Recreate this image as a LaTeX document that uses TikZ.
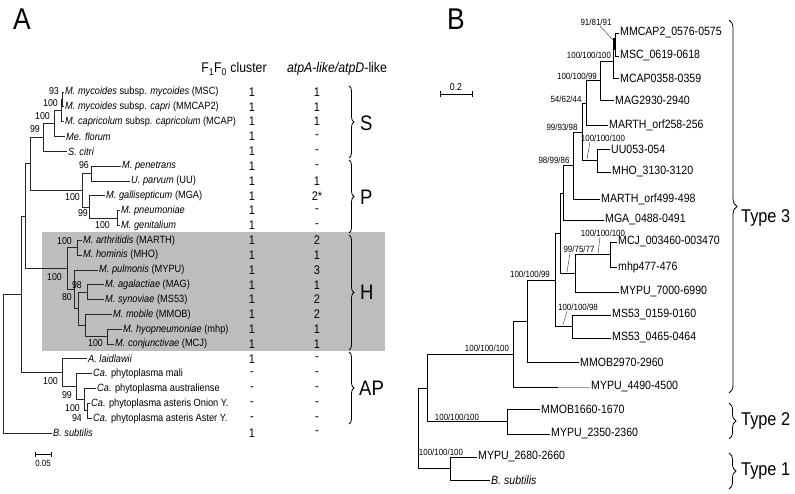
\documentclass[tikz,border=0pt]{standalone}
\usepackage{fontspec}
\setmainfont[FakeStretch=0.88]{Liberation Sans}
\usetikzlibrary{decorations.pathreplacing}
\newcommand{\fsz}[1]{\fontsize{#1}{#1}\selectfont}
\begin{document}
\begin{tikzpicture}[x=1pt,y=-1pt,
  brA/.style={line width=0.9pt, black!85},
  brB/.style={line width=0.95pt, black},
  leafA/.style={anchor=west, inner sep=1.5pt, font=\fsz{10.5}},
  bsA/.style={anchor=east, inner sep=1pt, font=\fsz{10}},
  val/.style={inner sep=0pt, font=\fsz{12.5}},
  leafB/.style={anchor=west, inner sep=1.5pt, font=\fsz{12}},
  bsB/.style={inner sep=0.5pt, font=\fsz{9}},
  lead/.style={line width=0.45pt, black!75},
  grp/.style={anchor=west, inner sep=0pt, font=\fsz{21}},
  typ/.style={anchor=west, inner sep=0pt, font=\fsz{18.5}},
  brc/.style={decorate, decoration={brace, amplitude=#1}, line width=0.8pt},
]
\useasboundingbox (0,0) rectangle (795,494);
\fill[black!26] (42,232) rectangle (385,351);

% ---------- panel labels ----------
\node[font=\fsz{30}, inner sep=0pt] (lblA) at (22,19) {A};
\node[font=\fsz{30}, inner sep=0pt] (lblB) at (456,19) {B};

% ---------- panel A header ----------
\node[font=\fsz{14}, inner sep=0pt] (hdr1) at (234,69) {F\textsubscript{1}F\textsubscript{0} cluster};
\node[font=\fsz{14}, inner sep=0pt] (hdr2) at (337,69) {\textit{atpA-like/atpD}-like};

% ---------- panel A leaves ----------
\node[leafA] (msc)    at (63.5,92.0)  {\textit{M. mycoides} subsp. \textit{mycoides} (MSC)};
\node[leafA] (mmcap)  at (63.5,106.8) {\textit{M. mycoides} subsp. \textit{capri} (MMCAP2)};
\node[leafA] (mcap)   at (63.5,121.7) {\textit{M. capricolum} subsp. \textit{capricolum} (MCAP)};
\node[leafA] (mefl)   at (64.5,136.5) {\textit{Me. florum}};
\node[leafA] (scit)   at (66.5,151.3) {\textit{S. citri}};
\node[leafA] (pen)    at (120.5,166.2) {\textit{M. penetrans}};
\node[leafA] (uu)     at (129.5,181.0) {\textit{U. parvum} (UU)};
\node[leafA] (mga)    at (104.5,195.8) {\textit{M. gallisepticum} (MGA)};
\node[leafA] (pneu)   at (119.5,210.6) {\textit{M. pneumoniae}};
\node[leafA] (geni)   at (119.5,225.5) {\textit{M. genitalium}};
\node[leafA] (marth)  at (81.5,240.3) {\textit{M. arthritidis} (MARTH)};
\node[leafA] (mho)    at (81.5,255.1) {\textit{M. hominis} (MHO)};
\node[leafA] (mypu)   at (97.5,270.0) {\textit{M. pulmonis} (MYPU)};
\node[leafA] (mag)    at (103.5,284.8) {\textit{M. agalactiae} (MAG)};
\node[leafA] (ms53)   at (103.5,299.6) {\textit{M. synoviae} (MS53)};
\node[leafA] (mmob)   at (111.5,314.5) {\textit{M. mobile} (MMOB)};
\node[leafA] (mhp)    at (121.5,329.3) {\textit{M. hyopneumoniae} (mhp)};
\node[leafA] (mcj)    at (113.5,344.1) {\textit{M. conjunctivae} (MCJ)};
\node[leafA] (laid)   at (86.5,358.9) {\textit{A. laidlawii}};
\node[leafA] (mali)   at (91.5,373.8) {\textit{Ca.} phytoplasma mali};
\node[leafA] (austr)  at (95.5,388.6) {\textit{Ca.} phytoplasma australiense};
\node[leafA] (onion)  at (89.5,403.4) {\textit{Ca.} phytoplasma asteris Onion Y.};
\node[leafA] (aster)  at (91.5,418.3) {\textit{Ca.} phytoplasma asteris Aster Y.};
\node[leafA] (bsubA)  at (51.5,433.1) {\textit{B. subtilis}};

% ---------- panel A internal nodes ----------
\coordinate (a1) at (62,99.4);
\coordinate (a2) at (61,110.6);
\coordinate (a3) at (54,123.5);
\coordinate (sA) at (43,137.4);
\coordinate (p1) at (91,173.6);
\coordinate (p2) at (117,218.1);
\coordinate (pX) at (89,207.0);
\coordinate (pA) at (82,190.3);
\coordinate (sp) at (30,163.8);
\coordinate (h1) at (77,247.7);
\coordinate (h2) at (87,292.2);
\coordinate (h3) at (107,336.7);
\coordinate (h4) at (85,325.6);
\coordinate (h5) at (78,308.9);
\coordinate (h6) at (74,289.5);
\coordinate (hA) at (67,268.6);
\coordinate (ap1) at (87,410.9);
\coordinate (ap2) at (84,399.7);
\coordinate (ap3) at (76,386.8);
\coordinate (apA) at (62,372.8);
\coordinate (i2) at (25,216.2);
\coordinate (i1) at (21,294.5);
\coordinate (rA) at (3,363.8);

\draw[brA] (a1) |- (msc.west)  (a1) |- (mmcap.west)
  (a2) |- (a1)  (a2) |- (mcap.west)
  (a3) |- (a2)  (a3) |- (mefl.west)
  (sA) |- (a3)  (sA) |- (scit.west)
  (p1) |- (pen.west)  (p1) |- (uu.west)
  (p2) |- (pneu.west)  (p2) |- (geni.west)
  (pX) |- (mga.west)  (pX) |- (p2)
  (pA) |- (p1)  (pA) |- (pX)
  (sp) |- (sA)  (sp) |- (pA)
  (h1) |- (marth.west)  (h1) |- (mho.west)
  (h2) |- (mag.west)  (h2) |- (ms53.west)
  (h3) |- (mhp.west)  (h3) |- (mcj.west)
  (h4) |- (mmob.west)  (h4) |- (h3)
  (h5) |- (h2)  (h5) |- (h4)
  (h6) |- (mypu.west)  (h6) |- (h5)
  (hA) |- (h1)  (hA) |- (h6)
  (ap1) |- (onion.west)  (ap1) |- (aster.west)
  (ap2) |- (austr.west)  (ap2) |- (ap1)
  (ap3) |- (mali.west)  (ap3) |- (ap2)
  (apA) |- (laid.west)  (apA) |- (ap3)
  (i2) |- (sp)  (i2) |- (hA)
  (i1) |- (i2)  (i1) |- (apA)
  (rA) |- (i1)  (rA) |- (bsubA.west);

% ---------- panel A support values ----------
\node[bsA] (sa1) at (60,91) {93};
\node[bsA] (sa2) at (59,103) {100};
\node[bsA] (sa3) at (51,116) {100};
\node[bsA] (sa4) at (41,129) {99};
\node[bsA] (sa5) at (90,165) {96};
\node[bsA] (sa6) at (81,197) {100};
\node[bsA] (sa7) at (89,213) {99};
\node[bsA] (sa8) at (111,225) {100};
\node[bsA] (sa9) at (73,241) {100};
\node[bsA] (sa10) at (63,277) {100};
\node[bsA] (sa11) at (83,285) {98};
\node[bsA] (sa12) at (73,297) {80};
\node[bsA] (sa13) at (104,343) {100};
\node[bsA] (sa14) at (59,381) {100};
\node[bsA] (sa15) at (73,395) {99};
\node[bsA] (sa16) at (81,408) {100};
\node[bsA] (sa17) at (83,418) {94};

% ---------- panel A table ----------
\foreach \i/\f/\a in {0/1/1,1/1/1,2/1/1,3/1/-,4/1/-,5/1/-,6/1/1,7/1/2*,8/1/-,9/1/-,
  10/1/2,11/1/1,12/1/3,13/1/1,14/1/2,15/1/2,16/1/1,17/1/1,18/1/-,19/-/-,20/-/-,
  21/-/-,22/-/-,23/1/-}{
  \node[val] (f\i) at (252,{92+14.83*\i}) {\f};
  \node[val] (g\i) at (317,{92+14.83*\i}) {\a};
}

% ---------- panel A braces ----------
\draw[brc=5pt] (349,86) -- (349,158);
\draw[brc=5pt] (349,160) -- (349,233);
\draw[brc=5pt] (349,235) -- (349,350);
\draw[brc=5pt] (349,352) -- (349,424);
\node[grp] (gS) at (360,123) {S};
\node[grp] (gP) at (360,197) {P};
\node[grp] (gH) at (360,292) {H};
\node[grp] (gAP) at (359,388) {AP};

% ---------- panel A scale ----------
\coordinate (scA1) at (35,454);
\coordinate (scA2) at (51,454);
\draw[line width=0.7pt] (scA1) -- (scA2);
\draw[line width=0.7pt] (35,451.5) -- (35,456.5) (51,451.5) -- (51,456.5);
\node[font=\fsz{9}, inner sep=0pt] (scAt) at (43,463) {0.05};

% ---------- panel B leaves ----------
\node[leafB] (bMMCAP2) at (618.5,33) {MMCAP2\_0576-0575};
\node[leafB] (bMSC)    at (618.5,56) {MSC\_0619-0618};
\node[leafB] (bMCAP)   at (618.5,78) {MCAP0358-0359};
\node[leafB] (bMAG)    at (613.5,100) {MAG2930-2940};
\node[leafB] (bM258)   at (607.5,125) {MARTH\_orf258-256};
\node[leafB] (bUU)     at (609.5,149) {UU053-054};
\node[leafB] (bMHO)    at (610.5,172) {MHO\_3130-3120};
\node[leafB] (bM499)   at (599.5,199) {MARTH\_orf499-498};
\node[leafB] (bMGA)    at (603.5,220) {MGA\_0488-0491};
\node[leafB] (bMCJ)    at (616.5,242) {MCJ\_003460-003470};
\node[leafB] (bmhp)    at (616.5,267) {mhp477-476};
\node[leafB] (bY7000)  at (618.5,292) {MYPU\_7000-6990};
\node[leafB] (bS0159)  at (610.5,315) {MS53\_0159-0160};
\node[leafB] (bS0465)  at (610.5,338) {MS53\_0465-0464};
\node[leafB] (bMM2970) at (578.5,362) {MMOB2970-2960};
\node[leafB] (bY4490)  at (589.5,387) {MYPU\_4490-4500};
\node[leafB] (bMM1660) at (539.5,409) {MMOB1660-1670};
\node[leafB] (bY2350)  at (549.5,434) {MYPU\_2350-2360};
\node[leafB] (bY2680)  at (476.5,457) {MYPU\_2680-2660};
\node[leafB] (bBsub)   at (489.5,480) {\textit{B. subtilis}};

% ---------- panel B internal nodes ----------
\coordinate (nmm) at (615,44.5);
\coordinate (nM)  at (613.5,61);
\coordinate (nA1) at (600,80.5);
\coordinate (nV)  at (586,103);
\coordinate (nUM) at (597,160.5);
\coordinate (nX)  at (582,132);
\coordinate (nZ)  at (573,165.5);
\coordinate (nY)  at (563,193);
\coordinate (nMC) at (610,254.5);
\coordinate (nQ)  at (575,273);
\coordinate (nW)  at (560,233);
\coordinate (nS2) at (572,326.5);
\coordinate (nN1) at (555,280);
\coordinate (nN2) at (527,321);
\coordinate (nN3) at (513,354);
\coordinate (nT2) at (507,421.5);
\coordinate (nT23) at (427,388);
\coordinate (nT1) at (450,468.5);
\coordinate (nR)  at (418,428);

\draw[brB] (nmm) |- (bMMCAP2.west)  (nmm) |- (bMSC.west)
  (nM) |- (nmm)  (nM) |- (bMCAP.west)
  (nA1) |- (nM)  (nA1) |- (bMAG.west)
  (nV) |- (nA1)  (nV) |- (bM258.west)
  (nUM) |- (bUU.west)  (nUM) |- (bMHO.west)
  (nX) |- (nV)  (nX) |- (nUM)
  (nZ) |- (nX)  (nZ) |- (bM499.west)
  (nY) |- (nZ)  (nY) |- (bMGA.west)
  (nMC) |- (bMCJ.west)  (nMC) |- (bmhp.west)
  (nQ) |- (nMC)  (nQ) |- (bY7000.west)
  (nW) |- (nY)  (nW) |- (nQ)
  (nS2) |- (bS0159.west)  (nS2) |- (bS0465.west)
  (nN1) |- (nW)  (nN1) |- (nS2)
  (nN2) |- (nN1)  (nN2) |- (bMM2970.west)
  (nN3) |- (nN2)  (nN3) |- (bY4490.west)
  (nT2) |- (bMM1660.west)  (nT2) |- (bY2350.west)
  (nT23) |- (nN3)  (nT23) |- (nT2)
  (nT1) |- (bY2680.west)  (nT1) |- (bBsub.west)
  (nR) |- (nT23)  (nR) |- (nT1);
\coordinate (thk1) at (614.5,38);
\coordinate (thk2) at (614.5,50);
\draw[line width=2.6pt] (thk1) -- (thk2);
\coordinate (gry) at (558,387);
\draw[line width=0.95pt, black!40] (gry) -- (bY4490.west);

% ---------- panel B support values ----------
\node[bsB] (bs1) at (596,22) {91/81/91};
\node[bsB] (bs2) at (589,55) {100/100/100};
\node[bsB] (bs3) at (577,76) {100/100/99};
\node[bsB] (bs4) at (566,99) {54/62/44};
\node[bsB] (bs5) at (562,127) {99/93/98};
\node[bsB] (bs6) at (603,138) {100/100/100};
\node[bsB] (bs7) at (554,160) {98/99/86};
\node[bsB] (bs8) at (603,233) {100/100/100};
\node[bsB] (bs9) at (579,249) {99/75/77};
\node[bsB] (bs10) at (578,307) {100/100/98};
\node[bsB] (bs11) at (530,274) {100/100/99};
\node[bsB] (bs12) at (487,348) {100/100/100};
\node[bsB] (bs13) at (457,417) {100/100/100};
\node[bsB] (bs14) at (441,452) {100/100/100};
\coordinate (k1) at (614,41);
\coordinate (k6) at (587,159);
\coordinate (k8) at (598,254);
\coordinate (k9) at (567,272);
\coordinate (k10) at (563,325);
\draw[lead] ([xshift=4pt]bs1.south) -- (k1);
\draw[lead] ([xshift=-13pt]bs6.south) -- (k6);
\draw[lead] ([xshift=-3pt]bs8.south) -- (k8);
\draw[lead] ([xshift=-9pt]bs9.south) -- (k9);
\draw[lead] ([xshift=-11pt]bs10.south) -- (k10);

% ---------- panel B braces ----------
\draw[brc=8pt] (729,20) -- (729,393);
\draw[brc=7pt] (729,403) -- (729,439);
\draw[brc=7pt] (729,453) -- (729,489);
\node[typ] (t3) at (741,218) {Type 3};
\node[typ] (t2) at (741,421) {Type 2};
\node[typ] (t1) at (741,471) {Type 1};

% ---------- panel B scale ----------
\coordinate (scB1) at (440,94);
\coordinate (scB2) at (472,94);
\draw[line width=0.8pt] (scB1) -- (scB2);
\draw[line width=0.8pt] (440,91) -- (440,97) (472,91) -- (472,97);
\node[font=\fsz{10}, inner sep=0pt] (scBt) at (456,87) {0.2};
\end{tikzpicture}
\end{document}
